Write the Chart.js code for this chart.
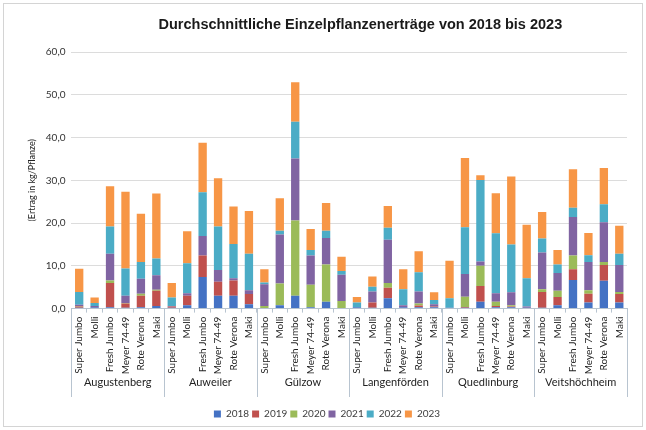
<!DOCTYPE html>
<html>
<head>
<meta charset="utf-8">
<script src="https://cdn.jsdelivr.net/npm/chart.js@4.4.0/dist/chart.umd.min.js"></script>
<style>
  html, body { margin: 0; padding: 0; background: #fff; }
  #wrap { width: 646px; height: 430px; }
</style>
</head>
<body>
<div id="wrap"><canvas id="ertragChart"></canvas></div>
<script>
// Daten: Sorten je Standort, Ertrag in kg/Pflanze
var titel = 'Durchschnittliche Einzelpflanzenerträge von 2018 bis 2023';
var sorten = ['Super Jumbo', 'Molli', 'Fresh Jumbo', 'Meyer 74-49', 'Rote Verona', 'Maki'];
var standorte = ['Augustenberg', 'Auweiler', 'Gülzow', 'Langenförden', 'Quedlinburg', 'Veitshöchheim'];
var jahre = ['2018', '2019', '2020', '2021', '2022', '2023'];
var yTicks = [0, 10, 20, 30, 40, 50, 60];

//               Augustenberg                 Auweiler                    Gülzow                       Langenförden               Quedlinburg                  Veitshöchheim
var ertrag2018 = [0.2,0.3,0.3,0.2,0.3,0.6,    0.2,0.8,7.4,3.0,3.0,1.0,    0,0.8,3.0,0.3,1.6,0,         0.3,0.2,2.4,0.3,0.3,0.3,   0.2,0.2,1.6,0.3,0.3,0.2,     0.2,0.8,6.7,1.4,6.5,1.4];
var ertrag2019 = [0.3,0.1,5.7,1.0,2.7,3.6,    0.3,2.2,5.0,3.3,3.6,2.4,    0,0,0,0,0,0,                 0,1.2,2.5,0,0.4,0.2,       0,0.2,3.7,0.3,0.2,0,         3.7,1.9,2.5,2.1,3.7,2.0];
var ertrag2020 = [0.1,0,0.6,0.1,0.5,0.2,      0,0,0,0,0,0,                0.6,5.1,17.6,5.3,8.7,1.8,    0,0,1.1,0,0.5,0,           0,2.4,4.7,1.0,0.3,0,         0.6,1.5,3.2,0.8,0.7,0.5];
var ertrag2021 = [0.3,0.2,6.2,1.7,3.5,3.4,    0.1,0.6,4.6,2.7,0.5,0.9,    5.1,11.4,14.5,6.8,6.2,6.1,   0,2.6,10.1,0.5,2.8,0.5,    0,5.3,1.0,2.0,3.0,0.3,       8.6,4.1,9.0,6.6,9.3,6.3];
var ertrag2022 = [3.0,0.7,6.4,6.4,3.9,3.9,    2.0,7.0,10.2,10.2,8.0,8.5,  0.4,0.9,8.6,1.3,1.7,0.9,     1.1,1.1,2.8,3.7,4.5,1.0,   2.2,10.9,19.1,14.0,11.2,6.6, 3.3,2.0,2.2,1.6,4.2,2.6];
var ertrag2023 = [5.4,1.3,9.4,17.9,11.3,15.2, 3.4,7.5,11.6,11.3,8.8,10.0, 3.1,7.6,9.2,4.9,6.5,3.3,     1.3,2.4,5.1,4.7,4.9,1.8,   8.8,16.2,1.1,9.4,15.9,12.5,  6.2,3.4,9.0,5.2,8.5,6.6];

var werte = [ertrag2018, ertrag2019, ertrag2020, ertrag2021, ertrag2022, ertrag2023];
var farben = ['#4472c4', '#c0504d', '#9bbb59', '#8064a2', '#4bacc6', '#f79646'];

var labels = [];
standorte.forEach(function () {
  sorten.forEach(function (s) { labels.push(s); });
});

var datasets = jahre.map(function (j, i) {
  return {
    label: j,
    data: werte[i],
    backgroundColor: farben[i],
    borderWidth: 0,
    categoryPercentage: 1.0,
    barPercentage: 0.54
  };
});

var schrift = 'Lato, "Liberation Sans", Arial, sans-serif';

// Titel und Rahmen
var titelPlugin = {
  id: 'titel',
  afterDraw: function (chart) {
    var ctx = chart.ctx, a = chart.chartArea;
    ctx.save();
    ctx.strokeStyle = '#d4d4d4';
    ctx.lineWidth = 1;
    ctx.strokeRect(3.5, 3.5, chart.width - 7, chart.height - 7);
    ctx.font = 'bold 14.5px "Liberation Sans", Arial, sans-serif';
    ctx.fillStyle = '#1a1a1a';
    ctx.textAlign = 'center';
    ctx.textBaseline = 'middle';
    ctx.fillText(titel, a.left + (a.right - a.left) * 0.52, 25);
    ctx.restore();
  }
};

// Trennlinien zwischen den Standorten
var trennPlugin = {
  id: 'trenner',
  afterDraw: function (chart) {
    var x = chart.scales.x, x2 = chart.scales.x2, ctx = chart.ctx;
    var n = labels.length, schritt = (x.right - x.left) / n;
    ctx.save();
    ctx.strokeStyle = '#b8c4d0';
    ctx.lineWidth = 1;
    for (var g = 0; g <= standorte.length; g++) {
      var idx = g * sorten.length;
      var px = (idx < n ? x.getPixelForValue(idx) - schritt / 2 : x.getPixelForValue(n - 1) + schritt / 2);
      px = Math.round(px) + 0.5;
      ctx.beginPath();
      ctx.moveTo(px, chart.chartArea.bottom);
      ctx.lineTo(px, x2.bottom - 9);
      ctx.stroke();
    }
    ctx.restore();
  }
};

var ctx = document.getElementById('ertragChart');
var myChart = new Chart(ctx, {
  type: 'bar',
  data: { labels: labels, datasets: datasets },
  plugins: [titelPlugin, trennPlugin],
  options: {
    responsive: true,
    maintainAspectRatio: false,
    animation: false,
    layout: { padding: { top: 52, left: 27, right: 19, bottom: 1 } },
    plugins: {
      title: { display: false },
      tooltip: { enabled: false },
      legend: {
        position: 'bottom',
        labels: {
          boxWidth: 7, boxHeight: 7, padding: 3,
          color: '#404040',
          font: { family: schrift, size: 10 }
        }
      }
    },
    scales: {
      x: {
        stacked: true,
        offset: true,
        grid: { drawOnChartArea: false, tickLength: 4, color: '#b8c4d0' },
        border: { display: true, color: '#b8c4d0' },
        ticks: {
          autoSkip: false, maxRotation: 90, minRotation: 90, padding: 4,
          color: '#222', font: { family: schrift, size: 10 }
        }
      },
      x2: {
        type: 'category',
        labels: standorte,
        position: 'bottom',
        offset: true,
        grid: { display: false },
        border: { display: false },
        // leerer Titel schafft Abstand zur Legende
        title: { display: true, text: ' ', font: { size: 8, lineHeight: 1.25 }, padding: { top: 16.5, bottom: 0 } },
        ticks: { padding: -10, color: '#222', font: { family: schrift, size: 11 } }
      },
      y: {
        stacked: true,
        min: yTicks[0],
        max: yTicks[yTicks.length - 1],
        afterBuildTicks: function (scale) {
          scale.ticks = yTicks.map(function (v) { return { value: v }; });
        },
        grid: { color: '#dcdcdc', drawTicks: false },
        border: { display: false },
        title: {
          display: true,
          text: '(Ertrag in kg/Pflanze)',
          color: '#222',
          font: { family: schrift, size: 9 },
          padding: { top: 0, bottom: 2 }
        },
        ticks: {
          padding: 6, color: '#333',
          font: { family: schrift, size: 10 },
          callback: function (v) { return v.toFixed(1).replace('.', ','); }
        }
      }
    }
  }
});
</script>
</body>
</html>
